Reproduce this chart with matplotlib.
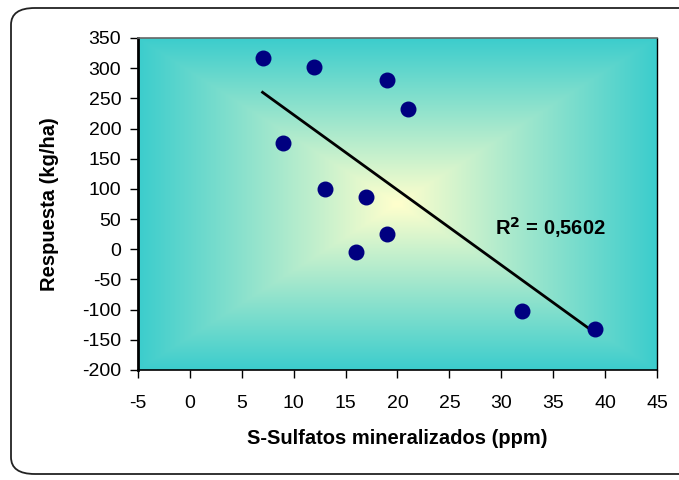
import numpy as np
import matplotlib
matplotlib.use('Agg')
import matplotlib.pyplot as plt
from matplotlib.colors import LinearSegmentedColormap
from matplotlib.patches import FancyBboxPatch

plt.rcParams['font.family'] = ['Liberation Sans', 'DejaVu Sans']
plt.rcParams['axes.unicode_minus'] = False

# data
sulfatos = [7, 12, 19, 21, 9, 13, 17, 19, 16, 32, 39]
respuesta = [317, 302, 280, 232, 176, 100, 87, 25, -5, -102, -132]
r2_label = 'R$^{\\mathbf{2}}$ = 0,5602'
xticks = np.arange(-5, 50, 5)
yticks = np.arange(-200, 400, 50)

fig = plt.figure(figsize=(6.79, 4.80), dpi=100)

# rounded frame around the chart
frame = FancyBboxPatch((11 / 679, 6 / 480), 700 / 679, 466 / 480,
                       boxstyle='round,pad=0,rounding_size=0.035',
                       transform=fig.transFigure, facecolor='none',
                       edgecolor='#222222', linewidth=1.3, zorder=0)
fig.patches.append(frame)

ax = fig.add_axes([138 / 679, 1 - 370 / 480, 519 / 679, 332 / 480])

# "from center" gradient of the plot area
u = np.linspace(-1, 1, 400)
uu, vv = np.meshgrid(u, u)
t = np.maximum(np.abs(uu), np.abs(vv))
cmap = LinearSegmentedColormap.from_list('fill', ['#FFFFCC', '#3CCDCD'])
ax.imshow(t, cmap=cmap, extent=(-5, 45, -200, 350), aspect='auto',
          origin='lower', zorder=0, interpolation='bilinear')

ax.scatter(sulfatos, respuesta, s=110, color='#000080', zorder=3)

# linear trend line
m, b = np.polyfit(sulfatos, respuesta, 1)
xl = np.array([min(sulfatos), max(sulfatos)])
ax.plot(xl, m * xl + b, color='black', lw=2, zorder=2)

ax.text(29.4, 36, r2_label, fontsize=14.5, fontweight='bold', va='center')

ax.set_xlim(-5, 45)
ax.set_ylim(-200, 350)
ax.set_xticks(xticks)
ax.set_yticks(yticks)
ax.tick_params(direction='out', length=6, width=1, labelsize=14)
ax.tick_params(axis='y', pad=6)
ax.tick_params(axis='x', pad=12)
ax.set_xlabel('S-Sulfatos mineralizados (ppm)', fontsize=14.5, fontweight='bold', va='center')
ax.set_ylabel('Respuesta (kg/ha)', fontsize=14.5, fontweight='bold', va='center')
ax.xaxis.set_label_coords(0.5, (370 - 438) / 332)
ax.yaxis.set_label_coords((49 - 138) / 519, 0.5)

ax.spines['left'].set_linewidth(2)
ax.spines['bottom'].set_linewidth(1.2)
ax.spines['top'].set_color('#666666')
ax.spines['top'].set_linewidth(1.2)
ax.spines['right'].set_linewidth(1.0)

fig.savefig('out.png', dpi=100)
